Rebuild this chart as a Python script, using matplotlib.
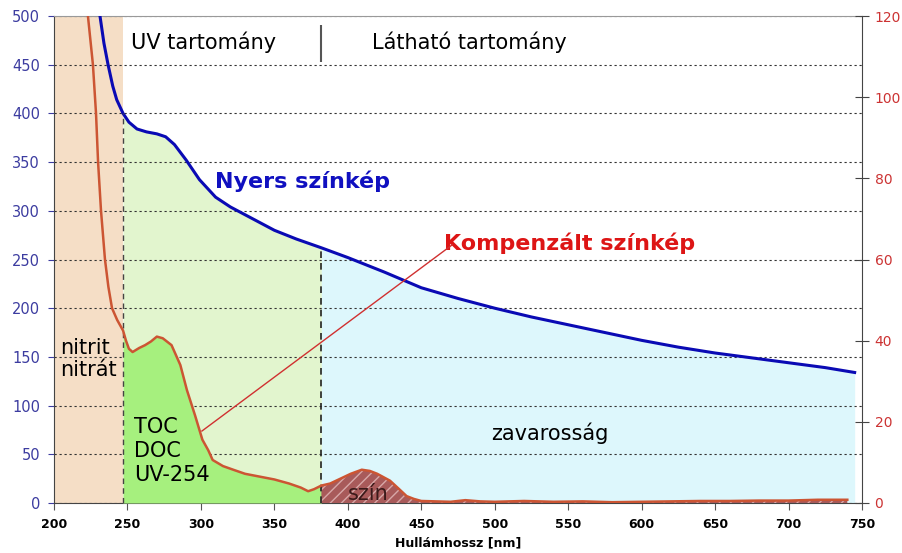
import numpy as np
import matplotlib.pyplot as plt

# Nyers színkép (left axis, 0-500)
blue_nm = [229, 231.3, 234, 236.8, 240, 242.7, 247, 251, 256.5, 263, 270, 276, 282, 290,
           299, 310, 320, 335, 350, 365, 382, 400, 425, 450, 475, 500, 525, 550, 575,
           600, 625, 650, 675, 700, 725, 745]
blue_val = [530, 500, 472, 450, 428, 414, 400, 391, 384, 381, 379, 376, 368, 352,
            332, 314, 304, 292, 280, 271, 262, 252, 237, 221, 210, 200, 191, 183, 175,
            167, 160, 154, 149, 144, 139, 134]

# Kompenzált színkép (right axis, 0-120)
red_nm = [221, 223.1, 226.5, 228.6, 230, 232, 234.7, 237, 239.5, 243, 247, 249, 251, 253.5,
          258, 262, 266, 270, 274, 280, 286, 290.5, 296, 301, 305, 308, 315, 322, 330,
          340, 350, 360, 368, 373, 377, 382, 388, 395, 402, 409.5, 415, 420, 428.7, 435,
          440, 445, 450, 460, 470, 480, 490, 500, 520, 540, 560, 580, 600, 620, 640,
          660, 680, 700, 720, 740]
red_val = [134, 120, 108, 96, 84, 72, 60, 53.3, 48, 45.1, 42.5, 40.0, 38.0, 37.2,
           38.2, 38.9, 39.8, 41.0, 40.6, 38.9, 34.0, 27.8, 21.6, 15.6, 13.0, 10.6, 9.1, 8.2, 7.2,
           6.5, 5.8, 4.8, 3.8, 2.9, 3.4, 4.3, 4.8, 6.0, 7.2, 8.2, 7.9, 7.2, 5.5, 3.4,
           1.7, 1.0, 0.5, 0.4, 0.3, 0.7, 0.4, 0.3, 0.5, 0.3, 0.4, 0.2, 0.3, 0.4, 0.5,
           0.5, 0.6, 0.6, 0.8, 0.8]

uv_edge = 247
vis_edge = 382
x_ticks = list(range(200, 751, 50))
left_ticks = list(range(0, 501, 50))
right_ticks = list(range(0, 121, 20))

bx = np.array(blue_nm)
by = np.array(blue_val)
rx = np.array(red_nm)
ry = np.array(red_val)
scale = 120 / 500

fig = plt.figure(figsize=(9.03, 5.53), dpi=100)
ax = fig.add_axes([54 / 903, 50 / 553, 808 / 903, 487 / 553])
ax2 = ax.twinx()

# background regions
ax.axvspan(200, uv_edge, color='#F5DEC6', lw=0, zorder=0)
m = (bx >= uv_edge) & (bx <= vis_edge)
ax.fill_between(bx[m], 0, by[m], color='#E2F5CE', lw=0, zorder=0)
m = bx >= vis_edge
ax.fill_between(bx[m], 0, by[m], color='#DDF7FC', lw=0, zorder=0)

ax.set_yticks(left_ticks)
ax.grid(axis='y', color='#333333', linestyle=(0, (2, 2.5)), linewidth=0.8, zorder=1)
ax.set_axisbelow(True)
ax.plot(bx, by, color='#0A0AB4', lw=2.2, zorder=5)

ax.set_xlim(200, 750)
ax.set_ylim(0, 500)
ax.set_xticks(x_ticks)
ax.tick_params(axis='y', colors='#3C3CA0', labelsize=10.5, length=4, pad=6)
ax.tick_params(axis='x', labelsize=9, length=5, pad=6, color='#555555')
for lb in ax.get_xticklabels():
    lb.set_fontweight('bold')
ax.set_xlabel('Hullámhossz [nm]', fontsize=9, fontweight='bold', labelpad=4)
for s in ['left', 'bottom']:
    ax.spines[s].set_color('#444444')
ax.spines['top'].set_color('#999999')
ax.spines['right'].set_visible(False)

# compensated spectrum fills and line on right axis
m = (rx >= uv_edge) & (rx <= vis_edge)
ax2.fill_between(rx[m], 0, ry[m], color='#A6F07E', lw=0, zorder=1)
m = rx >= vis_edge
ax2.fill_between(rx[m], 0, ry[m], facecolor='#A85A5A', edgecolor='#D8A8A8',
                 hatch='///', lw=0, zorder=1)
ax2.plot(rx, ry, color='#CC5533', lw=1.8, zorder=4)

# boundary lines
ax2.vlines(uv_edge, 0, np.interp(uv_edge, bx, by) * scale, colors='#444444',
           linestyles=(0, (4, 3)), lw=1, zorder=3)
ax2.vlines(vis_edge, 0, np.interp(vis_edge, bx, by) * scale, colors='#222222',
           linestyles=(0, (4, 3)), lw=1.2, zorder=3)
ax2.vlines(vis_edge, 453 * scale, 491 * scale, colors='#555555', lw=1.5, zorder=3)

ax2.set_ylim(0, 120)
ax2.set_yticks(right_ticks)
ax2.tick_params(axis='y', colors='#CC3333', labelsize=10, direction='inout',
                length=10, pad=4)
ax2.tick_params(axis='y', color='#444444')
ax2.spines['right'].set_color('#444444')
ax2.spines['top'].set_visible(False)
ax2.spines['left'].set_visible(False)
ax2.spines['bottom'].set_visible(False)

# annotation line
ax2.plot([471, 300.7], [265 * scale, 73.9 * scale], color='#D03030', lw=1, zorder=6)

# labels
ax2.text(302, 473 * scale, 'UV tartomány', fontsize=15, ha='center', va='center')
ax2.text(483, 473 * scale, 'Látható tartomány', fontsize=15, ha='center', va='center')
ax2.text(369, 330 * scale, 'Nyers színkép', fontsize=16, fontweight='bold',
         color='#1010C0', ha='center', va='center')
ax2.text(551, 267 * scale, 'Kompenzált színkép', fontsize=16, fontweight='bold',
         color='#DD1515', ha='center', va='center')
ax2.text(204, 148 * scale, 'nitrit\nnitrát', fontsize=15, ha='left', va='center',
         linespacing=1.1, zorder=7)
ax2.text(254.5, 53 * scale, 'TOC\nDOC\nUV-254', fontsize=15, ha='left', va='center',
         linespacing=1.25, zorder=7)
ax2.text(537.6, 72 * scale, 'zavarosság', fontsize=15, ha='center', va='center', zorder=7)
ax2.text(414, 9 * scale, 'szín', fontsize=15, ha='center', va='center',
         color='#3A1A1A', zorder=7)

fig.savefig('out.png', dpi=100)
